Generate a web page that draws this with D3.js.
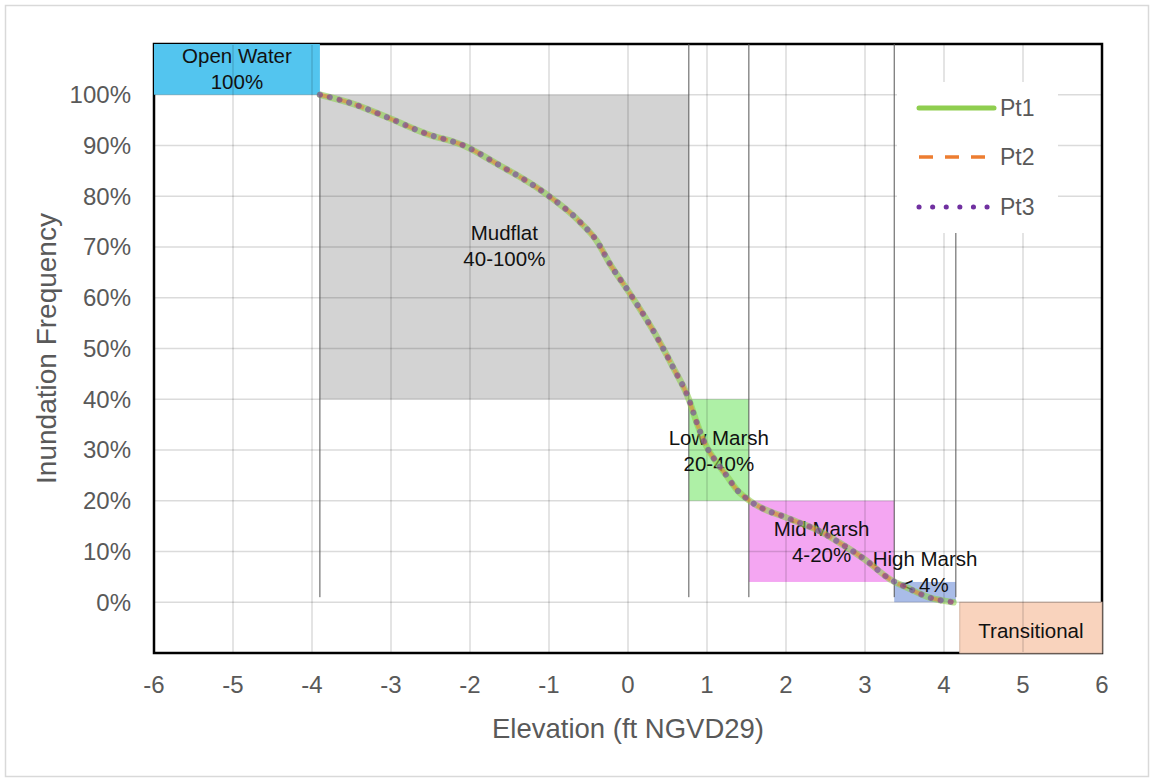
<!DOCTYPE html>
<html><head><meta charset="utf-8">
<script src="https://cdn.jsdelivr.net/npm/d3@7/dist/d3.min.js"></script>
<style>body{margin:0;background:#fff;} svg{display:block;font-family:"Liberation Sans",Arial,sans-serif;}</style>
</head><body><svg id="chart" width="1153" height="778"></svg>
<script>
// ---- data ----
const elevation = [-3.9,-3.48,-3.01,-2.55,-2.08,-1.66,-1.07,-0.60,-0.40,-0.23,0.03,0.32,0.57,0.77,0.87,0.99,1.12,1.25,1.37,1.54,2.05,2.40,2.68,3.00,3.32,3.53,3.82,4.12];
const pt1 = [1.00,0.982,0.953,0.923,0.900,0.864,0.808,0.748,0.713,0.667,0.607,0.535,0.463,0.400,0.354,0.308,0.276,0.249,0.223,0.200,0.164,0.142,0.117,0.084,0.045,0.029,0.009,0.000];
const pt2 = [1.00,0.982,0.953,0.923,0.900,0.864,0.808,0.748,0.713,0.667,0.607,0.535,0.463,0.400,0.354,0.308,0.276,0.249,0.223,0.200,0.164,0.142,0.117,0.084,0.045,0.029,0.009,0.000];
const pt3 = [1.00,0.982,0.953,0.923,0.900,0.864,0.808,0.748,0.713,0.667,0.607,0.535,0.463,0.400,0.354,0.308,0.276,0.249,0.223,0.200,0.164,0.142,0.117,0.084,0.045,0.029,0.009,0.000];
const seriesNames = ["Pt1","Pt2","Pt3"];
const xTicks = [-6,-5,-4,-3,-2,-1,0,1,2,3,4,5,6];
const yTicks = [0,0.1,0.2,0.3,0.4,0.5,0.6,0.7,0.8,0.9,1.0];
const yTickLabels = ["0%","10%","20%","30%","40%","50%","60%","70%","80%","90%","100%"];
const zoneNames = ["Open Water","Mudflat","Low Marsh","Mid Marsh","High Marsh","Transitional"];
const zoneRanges = ["100%","40-100%","20-40%","4-20%","< 4%",""];
const zoneElevMin = [-6,-3.9,0.77,1.53,3.37,4.2];
const zoneElevMax = [-3.9,0.77,1.53,3.37,4.15,6];
const zoneFreqMin = [1.0,0.4,0.2,0.04,0.0,-0.1];
const zoneFreqMax = [1.1,1.0,0.4,0.2,0.04,0.0];
const zoneLabelFreq = [1.052,0.703,0.298,0.12,0.059,-0.057];
const boundaryElev = [-3.9,0.77,1.53,3.37,4.15];
const boundaryTop = [1.0,1.1,1.1,1.1,0.8];
const boundaryBottom = 0.01;

// ---- styles ----
const zoneColors = ["#53c5ef","#d3d3d3","#aef0a6","#f4a6f2","#a9bce8","#f9d3bd"];
const seriesColors = ["#8fce4f","#ed7d31","#7030a0"];

const svg = d3.select("#chart");
const L = 154, R = 1102, T = 44, B = 653;
const x = d3.scaleLinear().domain([-6,6]).range([L,R]);
const y = d3.scaleLinear().domain([-0.1,1.1]).range([B,T]);

// outer border
svg.append("rect").attr("x",5.5).attr("y",5.5).attr("width",1143).attr("height",771)
  .attr("fill","#fff").attr("stroke","#d9d9d9").attr("stroke-width",1.5);

// frame (black)
svg.append("rect").attr("x",L).attr("y",T).attr("width",R-L).attr("height",B-T)
  .attr("fill","none").attr("stroke","#000").attr("stroke-width",2.5);

// zones
const zones = zoneNames.map((n,i)=>({n, r:zoneRanges[i], x0:zoneElevMin[i], x1:zoneElevMax[i], y0:zoneFreqMin[i], y1:zoneFreqMax[i], ly:zoneLabelFreq[i], c:zoneColors[i]}));
svg.append("g").selectAll("rect").data(zones).join("rect")
  .attr("x",d=>x(d.x0)).attr("y",d=>y(d.y1))
  .attr("width",d=>x(d.x1)-x(d.x0)).attr("height",d=>y(d.y0)-y(d.y1))
  .attr("fill",d=>d.c);
svg.append("rect").attr("x",x(zoneElevMin[5])).attr("y",y(0)).attr("width",x(6)-x(zoneElevMin[5])).attr("height",y(-0.1)-y(0))
  .attr("fill","none").attr("stroke","#d2b4a4").attr("stroke-width",1);

// grid
const grid = svg.append("g").attr("stroke","rgba(0,0,0,0.14)").attr("stroke-width",1.5);
grid.selectAll("line.v").data(xTicks.slice(1,-1)).join("line").attr("class","v")
  .attr("x1",d=>x(d)).attr("x2",d=>x(d)).attr("y1",T+1).attr("y2",B-1);
grid.selectAll("line.h").data(yTicks).join("line").attr("class","h")
  .attr("x1",L+1).attr("x2",R-1).attr("y1",d=>y(d)).attr("y2",d=>y(d));

// boundary lines
svg.append("g").selectAll("line").data(boundaryElev).join("line")
  .attr("x1",d=>x(d)).attr("x2",d=>x(d))
  .attr("y1",(d,i)=>y(boundaryTop[i])).attr("y2",y(boundaryBottom))
  .attr("stroke","#555").attr("stroke-width",1);

// zone labels
const lbl = svg.append("g").attr("font-size",20.5).attr("fill","#111").attr("text-anchor","middle");
zones.forEach(d=>{
  const cx = (x(d.x0)+x(d.x1))/2, cy = y(d.ly);
  if (d.r) {
    lbl.append("text").attr("x",cx).attr("y",cy-13).attr("dy","0.35em").text(d.n);
    lbl.append("text").attr("x",cx).attr("y",cy+13).attr("dy","0.35em").text(d.r);
  } else {
    lbl.append("text").attr("x",cx).attr("y",cy).attr("dy","0.35em").text(d.n);
  }
});

// series
const series = [pt1,pt2,pt3].map((v,i)=>({name:seriesNames[i], pts:elevation.map((e,j)=>[e,v[j]])}));
const line = d3.line().x(d=>x(d[0])).y(d=>y(d[1])).curve(d3.curveMonotoneX);
const styles = [
  {w:6.5, dash:null, cap:"round", op:0.6},
  {w:4, dash:"10,8", cap:"butt", op:0.55},
  {w:6, dash:"0.1,10", cap:"round", op:0.55}
];
svg.append("g").selectAll("path").data(series).join("path")
  .attr("d",d=>line(d.pts)).attr("fill","none")
  .attr("stroke",(d,i)=>seriesColors[i]).attr("stroke-width",(d,i)=>styles[i].w)
  .attr("stroke-dasharray",(d,i)=>styles[i].dash).attr("stroke-linecap",(d,i)=>styles[i].cap)
  .attr("stroke-opacity",(d,i)=>styles[i].op);

// axes labels
const xa = svg.append("g").attr("font-size",24).attr("fill","#595959").attr("text-anchor","middle");
xa.selectAll("text").data(xTicks).join("text").attr("x",d=>x(d)).attr("y",685).attr("dy","0.35em").text(d=>d);
const ya = svg.append("g").attr("font-size",24).attr("fill","#595959").attr("text-anchor","end");
ya.selectAll("text").data(yTicks).join("text").attr("x",131).attr("y",d=>y(d)).attr("dy","0.35em").text((d,i)=>yTickLabels[i]);

svg.append("text").attr("x",(L+R)/2).attr("y",728).attr("dy","0.35em").attr("text-anchor","middle")
  .attr("font-size",27.5).attr("fill","#595959").text("Elevation (ft NGVD29)");
svg.append("text").attr("transform",`translate(46,${(T+B)/2}) rotate(-90)`).attr("dy","0.35em").attr("text-anchor","middle")
  .attr("font-size",28).attr("fill","#595959").text("Inundation Frequency");

// legend
const lg = svg.append("g");
lg.append("rect").attr("x",897).attr("y",82).attr("width",161).attr("height",151).attr("fill","#fff");
const legY = [108,157,207];
series.forEach((s,i)=>{
  lg.append("line").attr("x1",919).attr("x2",994).attr("y1",legY[i]).attr("y2",legY[i])
    .attr("stroke",seriesColors[i]).attr("stroke-width",i==0?5:i==1?3.5:5)
    .attr("stroke-dasharray",i==0?null:i==1?"14,12":"0.1,13.5")
    .attr("stroke-linecap",i==1?"butt":"round");
  lg.append("text").attr("x",1000).attr("y",legY[i]).attr("dy","0.35em").attr("font-size",23).attr("fill","#595959").text(s.name);
});
</script></body></html>
